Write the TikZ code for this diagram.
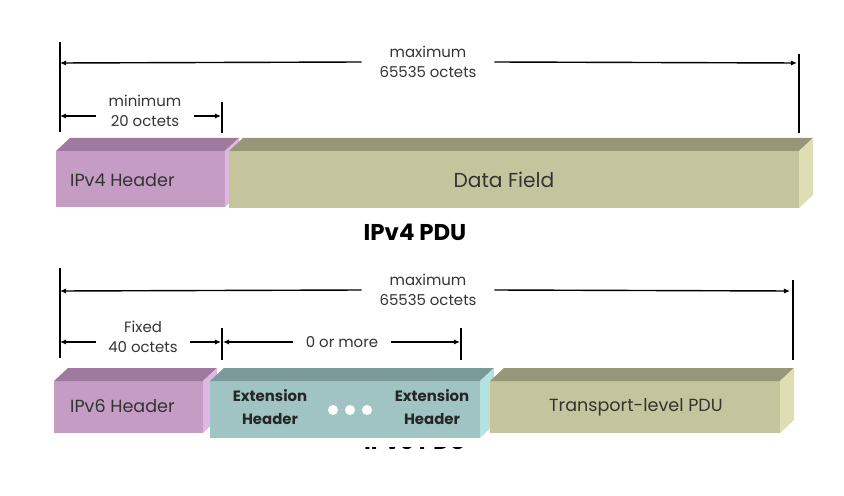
\documentclass[tikz,border=0pt]{standalone}
\usepackage{fontspec}
\setmainfont{Poppins}
\usetikzlibrary{arrows.meta}
\definecolor{hdrfront}{HTML}{C49CC4}
\definecolor{hdrtop}{HTML}{9E7B9E}
\definecolor{hdrside}{HTML}{E2B6E2}
\definecolor{extfront}{HTML}{A0C4C4}
\definecolor{exttop}{HTML}{7A9999}
\definecolor{extside}{HTML}{B4E2E2}
\definecolor{datfront}{HTML}{C4C59D}
\definecolor{dattop}{HTML}{969778}
\definecolor{datside}{HTML}{DEDEB2}
\definecolor{txtgray}{HTML}{333333}
% 3d field box: x1, x2, ytop, ybot, front, top, side
\newcommand{\fieldbox}[7]{%
  \fill[#5] (#1,#3) rectangle (#2,#4);
  \fill[#6] (#1,#3) -- (#1+14,#3-13) -- (#2+14,#3-13) -- (#2,#3) -- cycle;
  \fill[#7] (#2,#3) -- (#2+14,#3-13) -- (#2+14,#4-13) -- (#2,#4) -- cycle;
}

\begin{document}
\begin{tikzpicture}[x=0.02cm,y=-0.02cm,
  dim/.style={-{Latex[length=3.5pt,width=3pt]},line width=0.8pt},
  tick/.style={line width=1.1pt},
  lbl/.style={font=\fontsize{8.5}{11.3}\selectfont,text=txtgray,align=center,inner xsep=7pt},
  fld/.style={text=txtgray},
  ttl/.style={font=\fontsize{13}{15}\selectfont\bfseries}]
  \useasboundingbox (0,0) rectangle (844,496);

  % ---- IPv4 ----
  \draw[tick] (60,42) -- (60,132);
  \draw[tick] (799,54) -- (799,133);
  \draw[tick] (222,102) -- (222,133);
  \coordinate (maxA4) at (60,63);
  \coordinate (maxB4) at (797,63);
  \node[lbl,inner xsep=10pt] (max4) at (428,62) {maximum\\65535 octets};
  \draw[dim] (max4.west) -- (maxA4);
  \draw[dim] (max4.east) -- (maxB4);
  \coordinate (minA) at (60,116);
  \coordinate (minB) at (221,116);
  \node[lbl] (min4) at (145,111) {minimum\\20 octets};
  \draw[dim] (min4.west |- minA) -- (minA);
  \draw[dim] (min4.east |- minB) -- (minB);

  \fieldbox{56}{225}{151}{207}{hdrfront}{hdrtop}{hdrside}
  \fieldbox{229}{799}{151}{208}{datfront}{dattop}{datside}
  \node[fld,font=\fontsize{10}{12}\selectfont,anchor=west] (hdr4) at (64,180) {IPv4 Header};
  \node[fld,font=\fontsize{11.5}{13}\selectfont] (data) at (504,180) {Data Field};
  \node[ttl] (pdu4) at (415,232) {IPv4 PDU};

  % ---- IPv6 ----
  \begin{scope}
    \clip (330,447) rectangle (510,449.5);
    \node[ttl,anchor=base] (pdu6) at (415,449) {IPv6 PDU};
  \end{scope}
  \draw[tick] (60,268) -- (60,358);
  \draw[tick] (793,280) -- (793,360);
  \draw[tick] (222,328) -- (222,360);
  \draw[tick] (461,328) -- (461,360);
  \coordinate (maxA6) at (60,291);
  \coordinate (maxB6) at (790,291);
  \node[lbl,inner xsep=10pt] (max6) at (428,290) {maximum\\65535 octets};
  \draw[dim] (max6.west) -- (maxA6);
  \draw[dim] (max6.east) -- (maxB6);
  \coordinate (fixA) at (60,342);
  \coordinate (fixB) at (221,342);
  \node[lbl] (fix6) at (143,337) {Fixed\\40 octets};
  \draw[dim] (fix6.west |- fixA) -- (fixA);
  \draw[dim] (fix6.east |- fixB) -- (fixB);
  \coordinate (extA) at (223,342);
  \coordinate (extB) at (460,342);
  \node[lbl] (more) at (342,342) {0 or more};
  \draw[dim] (more.west) -- (extA);
  \draw[dim] (more.east) -- (extB);

  \fieldbox{54}{203}{381}{433}{hdrfront}{hdrtop}{hdrside}
  \fieldbox{210}{480}{381}{438}{extfront}{exttop}{extside}
  \fieldbox{490}{780}{381}{433}{datfront}{dattop}{datside}
  \node[fld,font=\fontsize{10}{12}\selectfont,anchor=west] (hdr6) at (64,406) {IPv6 Header};
  \foreach \i/\xc in {1/270,2/432}
    \node[font=\fontsize{8.5}{13}\selectfont\bfseries,align=center,text=black!85] (ext\i) at (\xc,407) {Extension\\Header};
  \foreach \xd in {333,350,367}
    \fill[white] (\xd,410) circle (5);
  \node[fld,font=\fontsize{10}{12}\selectfont] (tpdu) at (636,407) {Transport-level PDU};
\end{tikzpicture}
\end{document}
